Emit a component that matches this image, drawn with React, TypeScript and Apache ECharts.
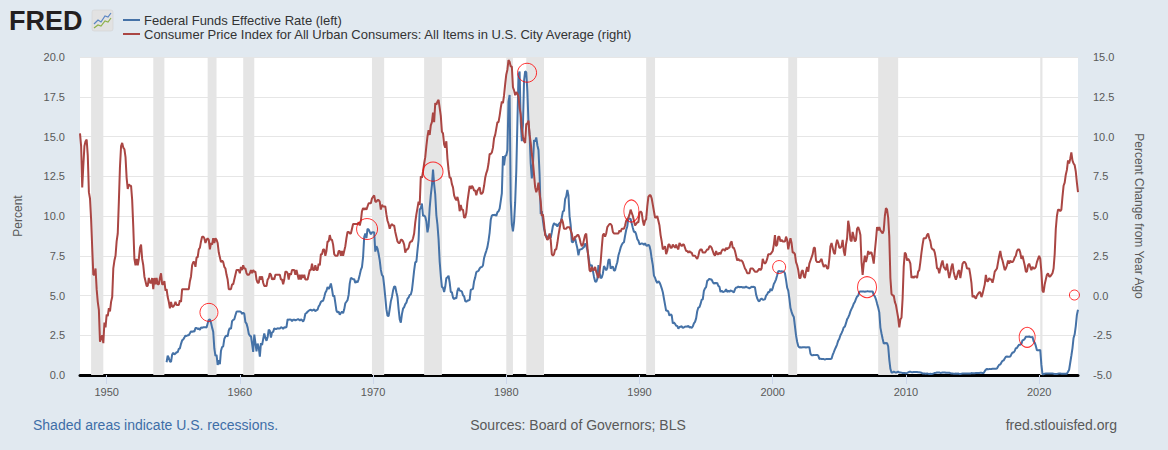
import React, { useEffect, useRef } from "react";
import * as echarts from "echarts";

// ---------- DATA ----------
const CPI_START_YEAR = 1948; // monthly from Jan 1948
const cpiYoY = [
  10.2, 9.4, 6.8, 8.2, 9.4, 9.7, 9.8, 8.8, 6.5, 6.1, 4.8, 3.0,
  1.3, 1.3, 1.7, 0.4, -0.4, -0.9, -2.9, -2.7, -2.5, -3.0, -1.7, -2.0,
  -1.2, -1.3, -0.8, -1.0, -0.4, -0.1, 1.7, 2.2, 2.5, 3.4, 3.9, 5.9,
  8.1, 9.4, 9.6, 9.3, 9.2, 8.7, 7.4, 6.7, 7.0, 6.9, 6.9, 6.0,
  4.3, 2.3, 1.9, 2.3, 1.9, 2.3, 3.0, 3.2, 2.3, 1.9, 1.2, 0.9,
  0.6, 0.6, 1.1, 0.8, 0.8, 1.1, 0.4, 1.1, 0.7, 1.1, 0.7, 0.7,
  1.1, 1.4, 0.7, 0.7, 0.9, 0.3, 0.4, -0.1, -0.4, -0.8, -0.4, -0.7,
  -0.7, -0.6, -0.4, -0.6, -0.6, -0.6, -0.3, -0.4, 0.4, 0.4, 0.4, 0.4,
  0.4, 0.4, 0.4, 0.9, 1.2, 1.9, 2.1, 2.1, 1.8, 2.4, 2.4, 2.9,
  3.0, 3.4, 3.7, 3.7, 3.6, 3.3, 3.5, 3.6, 3.5, 2.9, 3.3, 3.2,
  3.6, 3.3, 3.6, 3.5, 3.3, 2.7, 2.4, 2.1, 2.2, 2.1, 1.8, 1.7,
  1.3, 1.0, 0.4, 0.4, 0.4, 0.7, 0.7, 1.0, 1.3, 1.6, 1.6, 1.6,
  1.4, 1.8, 1.6, 1.9, 1.7, 1.7, 1.4, 1.3, 1.3, 1.4, 1.6, 1.4,
  1.6, 1.5, 1.5, 1.0, 0.8, 0.8, 1.2, 1.0, 1.2, 0.8, 0.6, 0.6,
  0.6, 1.0, 1.1, 1.4, 1.3, 1.0, 1.1, 1.0, 1.3, 1.3, 1.3, 1.3,
  1.3, 1.0, 1.0, 0.7, 1.0, 1.5, 1.5, 1.4, 1.0, 1.4, 1.3, 1.6,
  1.6, 1.6, 1.3, 1.6, 1.3, 1.0, 1.3, 1.0, 1.3, 1.1, 1.3, 1.0,
  1.0, 1.0, 1.3, 1.6, 1.6, 2.0, 1.6, 1.6, 1.9, 1.6, 1.6, 2.0,
  1.9, 2.6, 2.6, 2.9, 2.9, 2.5, 2.8, 3.4, 3.4, 3.8, 3.5, 3.5,
  3.2, 2.6, 2.5, 2.5, 2.5, 2.8, 2.8, 2.5, 2.8, 2.5, 2.8, 3.1,
  3.6, 4.0, 4.0, 3.9, 3.9, 4.2, 4.5, 4.5, 4.5, 4.5, 4.5, 4.6,
  4.4, 4.7, 5.3, 5.5, 5.4, 5.5, 5.4, 5.6, 5.8, 5.8, 5.8, 6.1,
  6.2, 6.3, 5.9, 5.9, 6.0, 6.0, 5.9, 5.4, 5.7, 5.6, 5.6, 5.6,
  5.1, 4.7, 4.5, 4.2, 4.4, 4.5, 4.4, 4.4, 4.0, 3.7, 3.4, 3.3,
  3.3, 3.5, 3.5, 3.4, 3.2, 2.7, 2.9, 2.9, 3.0, 3.3, 3.4, 3.4,
  3.6, 3.9, 4.6, 5.1, 5.5, 5.9, 5.7, 7.5, 7.4, 7.8, 8.3, 8.7,
  9.4, 10.0, 10.4, 10.1, 10.7, 10.9, 11.5, 10.9, 12.1, 12.0, 12.2, 12.3,
  11.8, 11.3, 10.3, 10.2, 9.5, 9.3, 9.7, 8.6, 7.9, 7.4, 7.4, 7.0,
  6.8, 6.3, 6.1, 6.0, 6.2, 5.9, 5.3, 5.7, 5.4, 5.4, 4.9, 4.9,
  5.2, 5.9, 6.4, 6.9, 6.7, 6.9, 6.8, 6.6, 6.6, 6.3, 6.6, 6.7,
  6.8, 6.4, 6.4, 6.5, 6.9, 7.4, 7.7, 7.9, 8.3, 8.9, 8.9, 9.0,
  9.3, 9.9, 10.1, 10.5, 10.9, 10.9, 11.3, 11.8, 12.2, 12.1, 12.6, 13.3,
  13.9, 14.2, 14.8, 14.7, 14.4, 14.4, 13.1, 12.9, 12.6, 12.8, 12.7, 12.5,
  11.8, 11.4, 10.5, 10.0, 9.7, 9.6, 10.8, 10.8, 11.0, 10.1, 9.6, 8.9,
  8.4, 7.6, 6.8, 6.5, 6.7, 7.1, 6.4, 5.9, 5.0, 5.1, 4.5, 3.8,
  3.7, 3.5, 3.6, 3.9, 3.5, 2.6, 2.5, 2.6, 2.9, 2.9, 3.3, 3.8,
  4.2, 4.6, 4.8, 4.6, 4.2, 4.2, 4.2, 4.3, 4.3, 4.3, 4.1, 3.9,
  3.5, 3.5, 3.7, 3.7, 3.8, 3.8, 3.6, 3.3, 3.1, 3.2, 3.5, 3.8,
  3.9, 3.1, 2.3, 1.6, 1.5, 1.8, 1.6, 1.6, 1.8, 1.5, 1.3, 1.1,
  1.5, 2.1, 3.0, 3.8, 3.9, 3.7, 3.9, 4.3, 4.4, 4.5, 4.5, 4.4,
  4.0, 3.9, 3.9, 3.9, 3.9, 3.9, 4.1, 4.0, 4.2, 4.2, 4.2, 4.4,
  4.7, 4.8, 4.9, 5.1, 5.4, 5.2, 5.0, 4.7, 4.4, 4.5, 4.6, 4.6,
  5.2, 5.3, 5.2, 4.7, 4.4, 4.7, 4.8, 5.6, 6.2, 6.3, 6.3, 6.1,
  5.7, 5.3, 4.9, 4.9, 5.0, 4.7, 4.4, 3.8, 3.4, 2.9, 3.0, 3.1,
  2.6, 2.8, 3.2, 3.2, 3.0, 3.0, 3.2, 3.1, 3.0, 3.2, 3.0, 2.9,
  3.3, 3.2, 3.1, 3.2, 3.2, 3.0, 2.8, 2.8, 2.7, 2.8, 2.7, 2.7,
  2.5, 2.5, 2.5, 2.4, 2.3, 2.5, 2.8, 2.9, 2.9, 2.7, 2.7, 2.7,
  2.8, 2.9, 2.9, 3.1, 3.1, 3.0, 2.8, 2.6, 2.5, 2.8, 2.6, 2.6,
  2.7, 2.6, 2.8, 2.9, 2.9, 2.8, 3.0, 2.9, 3.0, 3.0, 3.3, 3.4,
  3.0, 3.0, 2.8, 2.5, 2.2, 2.3, 2.2, 2.2, 2.2, 2.1, 1.9, 1.7,
  1.6, 1.4, 1.4, 1.4, 1.7, 1.7, 1.7, 1.6, 1.5, 1.5, 1.5, 1.6,
  1.7, 1.6, 1.7, 2.3, 2.1, 2.0, 2.1, 2.3, 2.6, 2.6, 2.6, 2.7,
  2.8, 3.2, 3.8, 3.1, 3.2, 3.7, 3.7, 3.4, 3.5, 3.4, 3.4, 3.4,
  3.7, 3.5, 2.9, 3.3, 3.6, 3.3, 2.7, 2.7, 2.6, 2.1, 1.9, 1.6,
  1.1, 1.1, 1.5, 1.6, 1.2, 1.1, 1.5, 1.8, 1.5, 2.0, 2.2, 2.4,
  2.6, 3.0, 3.0, 2.2, 2.1, 2.1, 2.1, 2.2, 2.3, 2.0, 1.8, 1.9,
  1.9, 1.7, 1.7, 2.3, 3.1, 3.3, 3.0, 2.7, 2.6, 3.2, 3.5, 3.3,
  3.0, 3.0, 3.1, 3.5, 2.8, 2.5, 3.2, 3.6, 4.7, 4.3, 3.5, 3.4,
  4.0, 3.7, 3.4, 3.5, 4.2, 4.3, 4.1, 3.8, 2.1, 1.3, 2.0, 2.5,
  2.1, 2.4, 2.8, 2.6, 2.7, 2.7, 2.4, 2.0, 2.8, 3.5, 4.3, 4.1,
  4.3, 4.1, 4.0, 3.9, 4.1, 5.0, 5.5, 5.4, 4.9, 3.7, 1.1, 0.1,
  0.0, 0.0, -0.4, -0.6, -1.0, -1.4, -2.0, -1.5, -1.4, -0.2, 1.8, 2.7,
  2.6, 2.2, 2.3, 2.2, 2.0, 1.1, 1.2, 1.1, 1.2, 1.2, 1.1, 1.5,
  1.6, 2.1, 2.7, 3.2, 3.6, 3.6, 3.6, 3.8, 3.9, 3.6, 3.4, 3.0,
  2.9, 2.9, 2.7, 2.3, 1.7, 1.7, 1.4, 1.7, 2.0, 2.2, 1.8, 1.7,
  1.6, 2.0, 1.5, 1.1, 1.4, 1.8, 2.0, 1.5, 1.2, 1.0, 1.2, 1.5,
  1.6, 1.1, 1.5, 2.0, 2.1, 2.1, 2.0, 1.7, 1.7, 1.7, 1.3, 0.8,
  -0.1, 0.0, -0.1, -0.2, 0.0, 0.1, 0.2, 0.2, -0.1, 0.1, 0.4, 0.7,
  1.3, 0.9, 0.9, 1.1, 1.0, 1.0, 0.8, 1.1, 1.5, 1.6, 1.7, 2.1,
  2.5, 2.8, 2.4, 2.2, 1.9, 1.6, 1.7, 1.9, 2.2, 2.0, 2.2, 2.1,
  2.1, 2.2, 2.4, 2.5, 2.8, 2.9, 2.9, 2.7, 2.3, 2.5, 2.2, 1.9,
  1.5, 1.5, 1.9, 2.0, 1.8, 1.6, 1.8, 1.7, 1.7, 1.8, 2.1, 2.3,
  2.5, 2.3, 1.5, 0.3, 0.2, 0.7, 1.0, 1.3, 1.4, 1.2, 1.2, 1.3,
  1.4, 1.7, 2.6, 4.2, 5.0, 5.4, 5.4, 5.3, 5.4, 6.2, 6.9, 7.1,
  7.6, 7.9, 8.5, 8.3, 8.6, 9.0, 8.5, 8.3, 8.2, 7.8, 7.1, 6.5,
];

const FF_START_YEAR = 1954;
const FF_START_MONTH = 7; // monthly from Jul 1954
const fedFunds = [
  0.80, 1.22, 1.07, 0.85, 0.83, 1.28,
  1.39, 1.29, 1.35, 1.43, 1.43, 1.64, 1.68, 1.96, 2.18, 2.24, 2.35, 2.48,
  2.45, 2.50, 2.50, 2.62, 2.75, 2.71, 2.75, 2.73, 2.95, 2.96, 2.88, 2.94,
  2.84, 3.00, 2.96, 3.00, 3.00, 3.00, 2.99, 3.24, 3.47, 3.50, 3.28, 2.98,
  2.72, 1.67, 1.20, 1.26, 0.63, 0.93, 0.68, 1.53, 1.76, 1.80, 2.27, 2.42,
  2.48, 2.43, 2.80, 2.96, 2.90, 3.39, 3.47, 3.50, 3.76, 3.98, 4.00, 3.99,
  3.99, 3.97, 3.84, 3.92, 3.85, 3.32, 3.23, 2.98, 2.60, 2.47, 2.44, 1.98,
  1.45, 2.54, 2.02, 1.49, 1.98, 1.73, 1.16, 2.00, 1.88, 2.26, 2.61, 2.33,
  2.15, 2.37, 2.85, 2.78, 2.36, 2.68, 2.71, 2.93, 2.90, 2.90, 2.94, 2.93,
  2.92, 3.00, 2.98, 2.90, 3.00, 2.99, 3.02, 3.49, 3.48, 3.50, 3.48, 3.38,
  3.48, 3.48, 3.43, 3.47, 3.50, 3.50, 3.42, 3.50, 3.45, 3.36, 3.52, 3.85,
  3.90, 3.98, 4.04, 4.09, 4.10, 4.04, 4.09, 4.12, 4.01, 4.08, 4.10, 4.32,
  4.42, 4.60, 4.65, 4.67, 4.90, 5.17, 5.30, 5.53, 5.40, 5.53, 5.76, 5.40,
  4.94, 5.00, 4.53, 4.05, 3.94, 3.98, 3.79, 3.90, 3.99, 3.88, 4.13, 4.51,
  4.61, 4.71, 5.05, 5.76, 6.11, 6.07, 6.02, 6.03, 5.78, 5.91, 5.82, 6.02,
  6.30, 6.61, 6.79, 7.41, 8.67, 8.90, 8.61, 9.19, 9.15, 9.00, 8.85, 8.97,
  8.98, 8.98, 7.76, 8.10, 7.95, 7.61, 7.21, 6.61, 6.29, 6.20, 5.60, 4.90,
  4.14, 3.72, 3.71, 4.15, 4.63, 4.91, 5.31, 5.57, 5.55, 5.20, 4.91, 4.14,
  3.50, 3.29, 3.83, 4.17, 4.27, 4.46, 4.55, 4.80, 4.87, 5.04, 5.06, 5.33,
  5.94, 6.58, 7.09, 7.12, 7.84, 8.49, 10.40, 10.50, 10.78, 10.01, 10.03, 9.95,
  9.65, 8.97, 9.35, 10.51, 11.31, 11.93, 12.92, 12.01, 11.34, 10.06, 9.45, 8.53,
  7.13, 6.24, 5.54, 5.49, 5.22, 5.55, 6.10, 6.14, 6.24, 5.82, 5.22, 5.20,
  4.87, 4.77, 4.84, 4.82, 5.29, 5.48, 5.31, 5.29, 5.25, 5.02, 4.95, 4.65,
  4.61, 4.68, 4.69, 4.73, 5.35, 5.39, 5.42, 5.90, 6.14, 6.47, 6.51, 6.56,
  6.70, 6.78, 6.79, 6.89, 7.36, 7.60, 7.81, 8.04, 8.45, 8.96, 9.76, 10.03,
  10.07, 10.06, 10.09, 10.01, 10.24, 10.29, 10.47, 10.94, 11.43, 13.77, 13.18, 13.78,
  13.82, 14.13, 17.19, 17.61, 10.98, 9.47, 9.03, 9.61, 10.87, 12.81, 15.85, 18.90,
  19.08, 15.93, 14.70, 15.72, 18.52, 19.10, 19.04, 17.82, 15.87, 15.08, 13.31, 12.37,
  13.22, 14.78, 14.68, 14.94, 14.45, 14.15, 12.59, 10.12, 10.31, 9.71, 9.20, 8.95,
  8.68, 8.51, 8.77, 8.80, 8.63, 8.98, 9.37, 9.56, 9.45, 9.48, 9.34, 9.47,
  9.56, 9.59, 9.91, 10.29, 10.32, 11.06, 11.23, 11.64, 11.30, 9.99, 9.43, 8.38,
  8.35, 8.50, 8.58, 8.27, 7.97, 7.53, 7.88, 7.90, 7.92, 7.99, 8.05, 8.27,
  8.14, 7.86, 7.48, 6.99, 6.85, 6.92, 6.56, 6.17, 5.89, 5.85, 6.04, 6.91,
  6.43, 6.10, 6.13, 6.37, 6.85, 6.73, 6.58, 6.73, 7.22, 7.29, 6.69, 6.77,
  6.83, 6.58, 6.58, 6.87, 7.09, 7.51, 7.75, 8.01, 8.19, 8.30, 8.35, 8.76,
  9.12, 9.36, 9.85, 9.84, 9.81, 9.53, 9.24, 8.99, 9.02, 8.84, 8.55, 8.45,
  8.23, 8.24, 8.28, 8.26, 8.18, 8.29, 8.15, 8.13, 8.20, 8.11, 7.81, 7.31,
  6.91, 6.25, 6.12, 5.91, 5.78, 5.90, 5.82, 5.66, 5.45, 5.21, 4.81, 4.43,
  4.03, 4.06, 3.98, 3.73, 3.82, 3.76, 3.25, 3.30, 3.22, 3.10, 3.09, 2.92,
  3.02, 3.03, 3.07, 2.96, 3.00, 3.04, 3.06, 3.03, 3.09, 2.99, 3.02, 2.96,
  3.05, 3.25, 3.34, 3.56, 4.01, 4.25, 4.26, 4.47, 4.73, 4.76, 5.29, 5.45,
  5.53, 5.92, 5.98, 6.05, 6.01, 6.00, 5.85, 5.74, 5.80, 5.76, 5.80, 5.60,
  5.56, 5.22, 5.31, 5.22, 5.24, 5.27, 5.40, 5.22, 5.30, 5.24, 5.31, 5.29,
  5.25, 5.19, 5.39, 5.51, 5.50, 5.56, 5.52, 5.54, 5.54, 5.50, 5.52, 5.50,
  5.56, 5.51, 5.49, 5.45, 5.49, 5.56, 5.54, 5.55, 5.51, 5.07, 4.83, 4.68,
  4.63, 4.76, 4.81, 4.74, 4.74, 4.76, 4.99, 5.07, 5.22, 5.20, 5.42, 5.30,
  5.45, 5.73, 5.85, 6.02, 6.27, 6.53, 6.54, 6.50, 6.52, 6.51, 6.51, 6.40,
  5.98, 5.49, 5.31, 4.80, 4.21, 3.97, 3.77, 3.65, 3.07, 2.49, 2.09, 1.82,
  1.73, 1.74, 1.73, 1.75, 1.75, 1.75, 1.73, 1.74, 1.75, 1.75, 1.34, 1.24,
  1.24, 1.26, 1.25, 1.26, 1.26, 1.22, 1.01, 1.03, 1.01, 1.01, 1.00, 0.98,
  1.00, 1.01, 1.00, 1.00, 1.00, 1.03, 1.26, 1.43, 1.61, 1.76, 1.93, 2.16,
  2.28, 2.50, 2.63, 2.79, 3.00, 3.04, 3.26, 3.50, 3.62, 3.78, 4.00, 4.16,
  4.29, 4.49, 4.59, 4.79, 4.94, 4.99, 5.24, 5.25, 5.25, 5.25, 5.25, 5.24,
  5.25, 5.26, 5.26, 5.25, 5.25, 5.25, 5.26, 5.02, 4.94, 4.76, 4.49, 4.24,
  3.94, 2.98, 2.61, 2.28, 1.98, 2.00, 2.01, 2.00, 1.81, 0.97, 0.39, 0.16,
  0.15, 0.22, 0.18, 0.15, 0.18, 0.21, 0.16, 0.16, 0.15, 0.12, 0.12, 0.12,
  0.11, 0.13, 0.16, 0.20, 0.20, 0.18, 0.18, 0.19, 0.19, 0.19, 0.19, 0.18,
  0.17, 0.16, 0.14, 0.10, 0.09, 0.09, 0.07, 0.10, 0.08, 0.07, 0.08, 0.07,
  0.08, 0.10, 0.13, 0.14, 0.16, 0.16, 0.16, 0.13, 0.14, 0.16, 0.16, 0.16,
  0.14, 0.15, 0.14, 0.15, 0.11, 0.09, 0.09, 0.08, 0.08, 0.09, 0.08, 0.09,
  0.07, 0.07, 0.08, 0.09, 0.09, 0.10, 0.09, 0.09, 0.09, 0.09, 0.09, 0.12,
  0.11, 0.11, 0.11, 0.12, 0.12, 0.13, 0.13, 0.14, 0.14, 0.12, 0.12, 0.24,
  0.34, 0.38, 0.36, 0.37, 0.37, 0.38, 0.39, 0.40, 0.40, 0.40, 0.41, 0.54,
  0.65, 0.66, 0.79, 0.90, 0.91, 1.04, 1.15, 1.16, 1.15, 1.15, 1.16, 1.30,
  1.41, 1.42, 1.51, 1.69, 1.70, 1.82, 1.91, 1.91, 1.95, 2.19, 2.20, 2.27,
  2.40, 2.40, 2.41, 2.42, 2.39, 2.38, 2.40, 2.13, 2.04, 1.83, 1.55, 1.55,
  1.55, 1.58, 0.65, 0.05, 0.05, 0.08, 0.09, 0.10, 0.09, 0.09, 0.09, 0.09,
  0.09, 0.08, 0.07, 0.07, 0.06, 0.08, 0.10, 0.09, 0.08, 0.08, 0.08, 0.08,
  0.08, 0.08, 0.20, 0.33, 0.77, 1.21, 1.68, 2.33, 2.56, 3.08, 3.78, 4.10,
];

// NBER recessions (peak month, trough month)
const recessions = [
  ["1948-11", "1949-10"], ["1953-07", "1954-05"], ["1957-08", "1958-04"],
  ["1960-04", "1961-02"], ["1969-12", "1970-11"], ["1973-11", "1975-03"],
  ["1980-01", "1980-07"], ["1981-07", "1982-11"], ["1990-07", "1991-03"],
  ["2001-03", "2001-11"], ["2007-12", "2009-06"], ["2020-02", "2020-04"],
];

const xTickYears = [1950, 1960, 1970, 1980, 1990, 2000, 2010, 2020];

// hand-drawn red circles: [year, left-axis value]
const circleMarks = [
  [1957.68, 3.94], [1969.55, 9.18], [1974.5, 12.79], [1981.56, 19.01],
  [1989.39, 10.31], [2000.48, 6.79], [2007.08, 5.52], [2019.1, 2.37],
  [2022.65, 5.03],
];

const legendLabels = [
  "Federal Funds Effective Rate (left)",
  "Consumer Price Index for All Urban Consumers: All Items in U.S. City Average (right)",
];

// ---------- STYLE ----------
const circleSizes = [[18, 18], [21, 21], [20, 19], [19, 19], [15, 22], [13, 13], [19, 21], [16, 20], [10, 10]];
const FONT = '"Liberation Sans", Arial, Helvetica, sans-serif';
const BLUE = "#4572a7";
const RED = "#aa4643";
const AXIS_TEXT = "#595959";

const ym = (s: string) => {
  const [y, m] = s.split("-").map(Number);
  return y + (m - 1) / 12;
};

export default function App() {
  const ref = useRef<HTMLDivElement>(null);

  useEffect(() => {
    if (!ref.current) return;
    const chart = echarts.init(ref.current, undefined, { renderer: "svg" });

    const cpiData = cpiYoY.map((v, i) => [CPI_START_YEAR + i / 12, v]);
    const ffData = fedFunds.map((v, i) => [FF_START_YEAR + (FF_START_MONTH - 1 + i) / 12, v]);
    const recessionAreas = recessions.map(([a, b]) => [{ xAxis: ym(a) }, { xAxis: ym(b) }]);
    const circles = circleMarks.map((c, i) => ({ value: c, symbolSize: circleSizes[i] }));

    const option: any = {
      animation: false,
      backgroundColor: "#e1e9f0",
      textStyle: { fontFamily: FONT },
      grid: {
        left: 80, right: 90, top: 57, bottom: 75,
        show: true, backgroundColor: "#ffffff", borderWidth: 0,
      },
      xAxis: {
        type: "value",
        min: CPI_START_YEAR,
        max: 2022 + 11 / 12,
        splitLine: { show: false },
        axisLine: { show: true, onZero: false, lineStyle: { color: "#000000", width: 3 } },
        axisTick: { show: true, customValues: xTickYears, length: 9, lineStyle: { color: "#ccd6eb", width: 1 } },
        axisLabel: {
          customValues: xTickYears,
          formatter: (v: number) => String(Math.round(v)),
          color: AXIS_TEXT, fontSize: 11, margin: 11, fontFamily: FONT,
        },
      },
      yAxis: [
        {
          type: "value", min: 0, max: 20, interval: 2.5, position: "left",
          name: "Percent", nameLocation: "middle", nameGap: 56, nameRotate: 90,
          nameTextStyle: { color: AXIS_TEXT, fontSize: 12, fontFamily: FONT },
          axisLine: { show: false }, axisTick: { show: false },
          axisLabel: { formatter: (v: number) => v.toFixed(1), color: AXIS_TEXT, fontSize: 11, margin: 15, fontFamily: FONT },
          splitLine: { show: true, lineStyle: { color: "#e6e6e6", width: 1 } },
        },
        {
          type: "value", min: -5, max: 15, interval: 2.5, position: "right",
          name: "Percent Change from Year Ago", nameLocation: "middle", nameGap: 55, nameRotate: -90,
          nameTextStyle: { color: AXIS_TEXT, fontSize: 12, fontFamily: FONT },
          axisLine: { show: false }, axisTick: { show: false },
          axisLabel: { formatter: (v: number) => v.toFixed(1), color: AXIS_TEXT, fontSize: 11, margin: 15, fontFamily: FONT },
          splitLine: { show: false },
        },
      ],
      series: [
        {
          name: legendLabels[0], type: "line", yAxisIndex: 0, data: ffData,
          showSymbol: false, symbol: "none", z: 3,
          lineStyle: { color: BLUE, width: 2 }, itemStyle: { color: BLUE },
          markArea: {
            silent: true, z: 1,
            itemStyle: { color: "#e5e5e5", opacity: 1 },
            data: recessionAreas,
          },
        },
        {
          name: legendLabels[1], type: "line", yAxisIndex: 1, data: cpiData,
          showSymbol: false, symbol: "none", z: 4,
          lineStyle: { color: RED, width: 2 }, itemStyle: { color: RED },
        },
        {
          type: "scatter", yAxisIndex: 0, data: circles, z: 5, silent: true,
          symbol: "circle",
          itemStyle: { color: "rgba(0,0,0,0)", borderColor: "#ff0000", borderWidth: 1 },
        },
      ],
      graphic: [
        {
          type: "text", x: 9, y: 21,
          style: { text: "FRED", font: `bold 27px ${FONT}`, fill: "#231f20", align: "left", verticalAlign: "middle" },
        },
        {
          type: "rect", shape: { x: 92, y: 10, width: 21, height: 21, r: 2 },
          style: { fill: "#e2e2e2", stroke: "#cfcfcf", lineWidth: 0.5 },
        },
        {
          type: "polyline", shape: { points: [[94, 24], [98, 20], [101, 22], [105, 16], [108, 17], [111, 13]] },
          style: { stroke: "#5b86c4", lineWidth: 1.2, fill: "none" },
        },
        {
          type: "polyline", shape: { points: [[94, 28], [98, 25], [101, 26], [105, 21], [108, 22], [111, 18]] },
          style: { stroke: "#8db14a", lineWidth: 1.2, fill: "none" },
        },
        {
          type: "line", shape: { x1: 123, y1: 20, x2: 140, y2: 20 },
          style: { stroke: BLUE, lineWidth: 2 },
        },
        {
          type: "text", x: 144, y: 20,
          style: { text: legendLabels[0], font: `13px ${FONT}`, fill: "#333333", align: "left", verticalAlign: "middle" },
        },
        {
          type: "line", shape: { x1: 123, y1: 34, x2: 140, y2: 34 },
          style: { stroke: RED, lineWidth: 2 },
        },
        {
          type: "text", x: 144, y: 34,
          style: { text: legendLabels[1], font: `13px ${FONT}`, fill: "#333333", align: "left", verticalAlign: "middle" },
        },
        {
          type: "text", x: 33, y: 425,
          style: { text: "Shaded areas indicate U.S. recessions.", font: `14px ${FONT}`, fill: "#3e6ea7", align: "left", verticalAlign: "middle" },
        },
        {
          type: "text", x: 578, y: 425,
          style: { text: "Sources: Board of Governors; BLS", font: `14px ${FONT}`, fill: "#595959", align: "center", verticalAlign: "middle" },
        },
        {
          type: "text", x: 1117, y: 425,
          style: { text: "fred.stlouisfed.org", font: `14px ${FONT}`, fill: "#595959", align: "right", verticalAlign: "middle" },
        },
      ],
    };

    chart.setOption(option);
    return () => chart.dispose();
  }, []);

  return (
    <div
      ref={ref}
      style={{ position: "absolute", left: 0, top: 0, width: 1168, height: 450, background: "#e1e9f0" }}
    />
  );
}
